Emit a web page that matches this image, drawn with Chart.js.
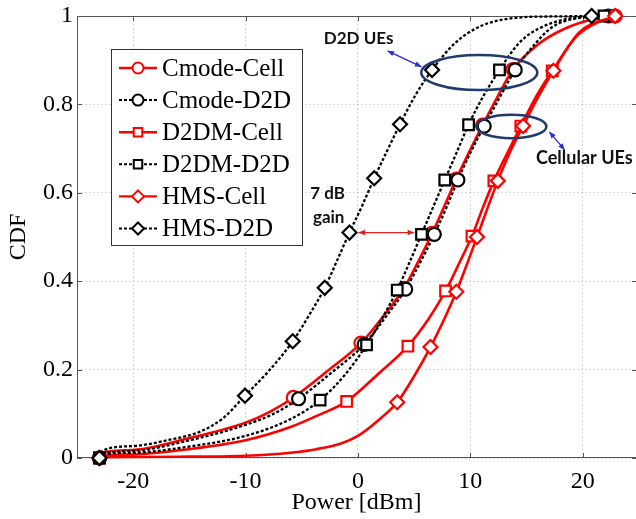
<!DOCTYPE html>
<html>
<head>
<meta charset="utf-8">
<script src="https://cdn.jsdelivr.net/npm/chart.js@4.4.1/dist/chart.umd.min.js"></script>
<style>
body{margin:0;overflow:hidden;background:#fff;}
</style>
</head>
<body>
<canvas id="myChart" width="636" height="519"></canvas>
<script>
// axis ticks
const xTicks = [-20, -10, 0, 10, 20];
const yTicks = [0, 0.2, 0.4, 0.6, 0.8, 1];

// Cmode-Cell
const cmodeCellX = [-23, -22.7, -20, -15, -10, -7.8, -5.75, -2.8, 0.27, 2.3, 4.1, 5.4, 6.6, 7.7, 8.75, 9.9, 11.1, 12.4, 13.8, 16, 18.3, 21, 22.9];
const cmodeCellY = [0, 0.012, 0.018, 0.045, 0.08, 0.105, 0.137, 0.195, 0.26, 0.322, 0.384, 0.446, 0.508, 0.57, 0.631, 0.692, 0.753, 0.816, 0.879, 0.935, 0.97, 0.993, 1];
const cmodeCellMarks = [0, 6, 8, 10, 12, 14, 16, 18, 22];

// Cmode-D2D
const cmodeD2dX = [-23, -22.7, -20, -15, -10, -7.5, -5.28, -2.5, 0.56, 2.5, 4.25, 5.6, 6.8, 7.9, 8.9, 10, 11.24, 12.6, 14.0, 15.7, 17.3, 19.5, 22.3];
const cmodeD2dY = [0, 0.01, 0.016, 0.04, 0.075, 0.1, 0.134, 0.19, 0.257, 0.32, 0.382, 0.445, 0.506, 0.568, 0.629, 0.69, 0.751, 0.815, 0.878, 0.935, 0.975, 0.995, 1];
const cmodeD2dMarks = [0, 6, 8, 10, 12, 14, 16, 18, 22];

// D2DM-Cell
const d2dmCellX = [-23, -22.7, -20, -15, -10, -6, -3.6, -1.0, 1.8, 4.45, 6.3, 7.8, 9.0, 10.15, 11.1, 12.1, 13.3, 14.5, 15.8, 17.3, 19.5, 22.5];
const d2dmCellY = [0, 0.005, 0.008, 0.02, 0.04, 0.07, 0.096, 0.128, 0.19, 0.253, 0.315, 0.378, 0.44, 0.502, 0.565, 0.627, 0.69, 0.751, 0.815, 0.876, 0.955, 1];
const d2dmCellMarks = [0, 7, 9, 11, 13, 15, 17, 19, 21];

// D2DM-D2D
const d2dmD2dX = [-23, -22.7, -20, -15, -10, -6, -3.36, -1.1, 0.77, 2.2, 3.5, 4.6, 5.66, 6.7, 7.73, 8.8, 9.85, 11.1, 12.6, 14.2, 15.5, 18.5, 21.9];
const d2dmD2dY = [0, 0.008, 0.012, 0.026, 0.05, 0.088, 0.131, 0.19, 0.256, 0.318, 0.38, 0.443, 0.506, 0.568, 0.629, 0.692, 0.754, 0.816, 0.878, 0.935, 0.963, 0.993, 1];
const d2dmD2dMarks = [0, 6, 8, 10, 12, 14, 16, 18, 22];

// HMS-Cell
const hmsCellX = [-23, -22.7, -15, -10, -6, -3.7, -1.5, 0, 1.8, 3.5, 5.0, 6.46, 7.7, 8.76, 9.7, 10.6, 11.5, 12.45, 13.5, 14.7, 16, 17.4, 19.7, 22.9];
const hmsCellY = [0, 0.002, 0.003, 0.005, 0.012, 0.02, 0.033, 0.05, 0.085, 0.126, 0.185, 0.251, 0.315, 0.376, 0.438, 0.5, 0.563, 0.627, 0.69, 0.751, 0.815, 0.876, 0.963, 1];
const hmsCellMarks = [0, 9, 11, 13, 15, 17, 19, 21, 23];

// HMS-D2D
const hmsD2dX = [-23, -22.7, -20, -17, -14, -12, -10.05, -8, -5.8, -4.3, -2.95, -1.8, -0.75, 0.4, 1.45, 2.6, 3.75, 5.1, 6.6, 8.7, 11, 14.6, 17.5, 20.8];
const hmsD2dY = [0, 0.017, 0.027, 0.04, 0.06, 0.09, 0.141, 0.195, 0.264, 0.325, 0.385, 0.45, 0.51, 0.572, 0.633, 0.695, 0.755, 0.82, 0.878, 0.94, 0.978, 0.997, 0.999, 1];
const hmsD2dMarks = [0, 6, 8, 10, 12, 14, 16, 18, 23];

const RED = "#ff0000";
const BLACK = "#000000";
const SERIF = "'Liberation Serif', 'Times New Roman', Times, 'DejaVu Serif', serif";

function pts(xs, ys){
  return xs.map((x, i) => ({x: x, y: ys[i]}));
}

const series = [
  {label:"Cmode-Cell", xs:cmodeCellX, ys:cmodeCellY, marks:cmodeCellMarks, color:RED, dash:[], style:"circle", r:6.5},
  {label:"Cmode-D2D", xs:cmodeD2dX, ys:cmodeD2dY, marks:cmodeD2dMarks, color:BLACK, dash:[3,2], style:"circle", r:6.5},
  {label:"D2DM-Cell", xs:d2dmCellX, ys:d2dmCellY, marks:d2dmCellMarks, color:RED, dash:[], style:"rect", r:7.5},
  {label:"D2DM-D2D", xs:d2dmD2dX, ys:d2dmD2dY, marks:d2dmD2dMarks, color:BLACK, dash:[3,2], style:"rect", r:7.5},
  {label:"HMS-Cell", xs:hmsCellX, ys:hmsCellY, marks:hmsCellMarks, color:RED, dash:[], style:"rectRot", r:7},
  {label:"HMS-D2D", xs:hmsD2dX, ys:hmsD2dY, marks:hmsD2dMarks, color:BLACK, dash:[3,2], style:"rectRot", r:7}
];

const datasets = series.map((s, k) => ({
  label: s.label,
  data: pts(s.xs, s.ys),
  borderColor: s.color,
  borderWidth: s.color === RED ? 2.6 : 2.3,
  borderDash: s.dash,
  cubicInterpolationMode: "monotone",
  pointStyle: s.style,
  pointRadius: c => s.marks.includes(c.dataIndex) ? s.r : 0,
  pointBorderWidth: 2.2,
  pointBorderColor: s.color,
  pointBackgroundColor: "#fff",
  clip: false,
  order: series.length - k
}));

function drawMarker(ctx, style, x, y, r){
  ctx.beginPath();
  if(style === "circle"){
    ctx.arc(x, y, r, 0, Math.PI * 2);
  } else if(style === "rect"){
    const h = r * Math.SQRT1_2;
    ctx.rect(x - h, y - h, 2 * h, 2 * h);
  } else {
    ctx.moveTo(x, y - r); ctx.lineTo(x + r, y); ctx.lineTo(x, y + r); ctx.lineTo(x - r, y); ctx.closePath();
  }
  ctx.fill();
  ctx.stroke();
}

function arrow(ctx, x1, y1, x2, y2, color){
  const a = Math.atan2(y2 - y1, x2 - x1);
  const hl = 7, hw = 0.4;
  ctx.strokeStyle = color;
  ctx.fillStyle = color;
  ctx.lineWidth = 1.3;
  ctx.setLineDash([]);
  ctx.beginPath(); ctx.moveTo(x1, y1); ctx.lineTo(x2, y2); ctx.stroke();
  [[x2, y2, a], [x1, y1, a + Math.PI]].forEach(([x, y, t]) => {
    ctx.beginPath();
    ctx.moveTo(x, y);
    ctx.lineTo(x - hl * Math.cos(t - hw), y - hl * Math.sin(t - hw));
    ctx.lineTo(x - hl * Math.cos(t + hw), y - hl * Math.sin(t + hw));
    ctx.closePath();
    ctx.fill();
  });
}

const framePlugin = {
  id: "frame",
  beforeDatasetsDraw(chart){
    const {ctx, chartArea: a, scales} = chart;
    ctx.save();
    ctx.strokeStyle = "#555";
    ctx.lineWidth = 1;
    ctx.setLineDash([]);
    // right side of the box falls just past the canvas edge
    ctx.strokeRect(a.left + 0.5, a.top + 0.5, a.right - a.left + 2, a.bottom - a.top - 1);
    ctx.beginPath();
    xTicks.forEach(v => {
      const px = Math.round(scales.x.getPixelForValue(v)) + 0.5;
      ctx.moveTo(px, a.bottom); ctx.lineTo(px, a.bottom - 5);
      ctx.moveTo(px, a.top); ctx.lineTo(px, a.top + 5);
    });
    yTicks.forEach(v => {
      const py = Math.round(scales.y.getPixelForValue(v)) + 0.5;
      ctx.moveTo(a.left, py); ctx.lineTo(a.left + 5, py);
      ctx.moveTo(a.right + 1, py); ctx.lineTo(a.right - 4, py);
    });
    ctx.stroke();
    ctx.restore();
  },
  afterDatasetsDraw(chart){
    const {ctx, scales} = chart;
    const X = v => scales.x.getPixelForValue(v);
    const Y = v => scales.y.getPixelForValue(v);
    ctx.save();

    // ellipses
    ctx.strokeStyle = "#1f3a6b";
    ctx.lineWidth = 2.5;
    ctx.setLineDash([]);
    ctx.beginPath();
    ctx.ellipse(X(10.8), Y(0.872), 58, 17.5, 0, 0, Math.PI * 2);
    ctx.stroke();
    ctx.beginPath();
    ctx.ellipse(X(13.66), Y(0.75), 35, 11.7, 0, 0, Math.PI * 2);
    ctx.stroke();

    // arrows
    arrow(ctx, X(2.64), Y(0.921), X(5.66), Y(0.885), "#2b2bd6");
    arrow(ctx, X(17.04), Y(0.738), X(18.4), Y(0.697), "#2b2bd6");
    arrow(ctx, X(0.05), Y(0.51), X(5.0), Y(0.51), "#e0201c");

    // notes
    ctx.fillStyle = "#111";
    ctx.font = "bold 17px Lato, 'Open Sans', sans-serif";
    ctx.textAlign = "center";
    ctx.textBaseline = "middle";
    ctx.fillText("D2D UEs", X(0.06), Y(0.95));
    ctx.fillText("7 dB", X(-2.7), Y(0.598));
    ctx.fillText("gain", X(-2.6), Y(0.543));
    ctx.font = "bold 18px Lato, 'Open Sans', sans-serif";
    ctx.fillText("Cellular UEs", X(20.15), Y(0.678));

    // legend
    const lx = 111, ly = 49, lw = 191, lh = 196;
    ctx.fillStyle = "#fff";
    ctx.fillRect(lx, ly, lw, lh);
    ctx.strokeStyle = "#333";
    ctx.lineWidth = 1;
    ctx.strokeRect(lx + 0.5, ly + 0.5, lw, lh);
    ctx.font = "25px " + SERIF;
    ctx.textAlign = "left";
    series.forEach((s, i) => {
      const cy = 68 + i * 32.1;
      ctx.strokeStyle = s.color;
      ctx.lineWidth = s.color === RED ? 2.4 : 2;
      ctx.setLineDash(s.dash);
      ctx.beginPath(); ctx.moveTo(119, cy); ctx.lineTo(157, cy); ctx.stroke();
      ctx.setLineDash([]);
      ctx.fillStyle = "#fff";
      ctx.lineWidth = 2;
      drawMarker(ctx, s.style, 138, cy, s.style === "circle" ? 5.5 : 6);
      ctx.fillStyle = "#000";
      ctx.fillText(s.label, 162, cy + 1);
    });
    ctx.restore();
  }
};

const ctx = document.getElementById("myChart");

let chart = new Chart(ctx, {
  type: "line",
  data: {datasets: datasets},
  options: {
    responsive: false,
    animation: false,
    events: [],
    layout: {autoPadding: false, padding: {top: 16, right: 0, left: 0, bottom: 0}},
    plugins: {legend: {display: false}, tooltip: {enabled: false}},
    scales: {
      x: {
        type: "linear",
        min: -25,
        max: 24.75,
        afterBuildTicks: s => { s.ticks = xTicks.map(v => ({value: v})); },
        afterFit: s => { s.height = 61; },
        grid: {color: "rgba(0,0,0,0.14)", drawTicks: false, lineWidth: 1},
        border: {display: false, dash: [2, 2]},
        ticks: {color: "#000", padding: 9, callback: v => String(v), font: {family: SERIF, size: 24}},
        title: {display: true, text: "Power [dBm]", color: "#000", padding: {top: 0, bottom: 2}, font: {family: SERIF, size: 24}}
      },
      y: {
        min: 0,
        max: 1,
        afterBuildTicks: s => { s.ticks = yTicks.map(v => ({value: v})); },
        afterFit: s => { s.width = 77; },
        grid: {color: "rgba(0,0,0,0.14)", drawTicks: false, lineWidth: 1},
        border: {display: false, dash: [2, 2]},
        ticks: {color: "#000", padding: 4, callback: v => String(v), font: {family: SERIF, size: 24, lineHeight: 0.9}},
        title: {display: true, text: "CDF", color: "#000", padding: {top: 4, bottom: 0}, font: {family: SERIF, size: 24}}
      }
    }
  },
  plugins: [framePlugin]
});
</script>
</body>
</html>
